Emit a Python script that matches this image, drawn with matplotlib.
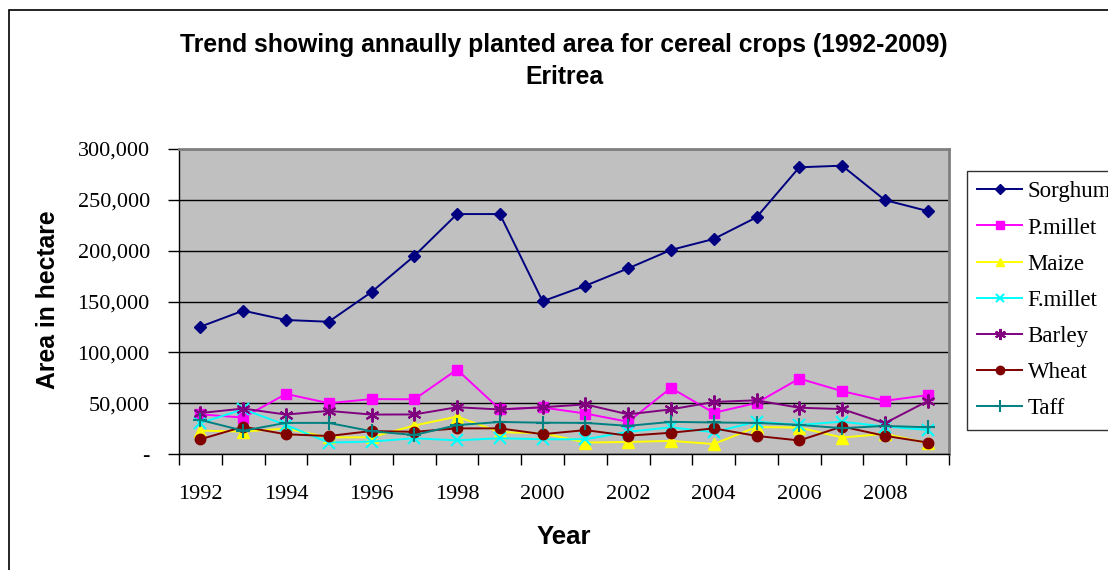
#%% CEREAL CROPS AREA - ERITREA
# Surfaces cultivees annuelles par culture (hectares), 1992-2009

import matplotlib
matplotlib.use('Agg')
import matplotlib.pyplot as plt
from matplotlib.patches import Rectangle
from matplotlib.ticker import FuncFormatter, MultipleLocator
import numpy as np


#%% DATAS

years = list(range(1992, 2010))

sorghum = [125200, 141000, 131800, 130100, 159300, 194800, 236000, 236000, 150200,
           165500, 182600, 200700, 211500, 232800, 282000, 283600, 249800, 239000]
p_millet = [39000, 35800, 59100, 50000, 54000, 53800, 83000, 44000, 45800,
            39800, 31700, 65000, 40500, 50200, 74200, 61800, 52300, 57900]
maize = [23000, 22000, 25000, 16300, 16500, 28000, 36800, 21500, 20500,
         11300, 11800, 12900, 9800, 26500, 26000, 16200, 19800, 10700]
f_millet = [30500, 44000, 28500, 11300, 12200, 15500, 13400, 15500, 14500,
            14500, 21900, 26200, 21500, 31800, 28600, 31800, 27000, 23700]
barley = [40300, 44700, 38800, 42400, 38800, 38900, 46000, 43800, 46000,
          48800, 39000, 43900, 51200, 52800, 45500, 44200, 30300, 52000]
wheat = [14500, 26800, 19400, 17700, 22600, 21800, 25200, 25200, 19500,
         23500, 18000, 20900, 25200, 17800, 13300, 27000, 17900, 11300]
taff = [33500, 22900, 30600, 30600, 22400, 18700, 28400, 31500, 30800,
        30600, 27700, 31600, 31000, 30600, 28600, 25400, 27600, 26300]

series = [
    ('Sorghum', sorghum, '#000080', 'D', 6.5),
    ('P.millet', p_millet, '#FF00FF', 's', 7),
    ('Maize', maize, '#FFFF00', '^', 8),
    ('F.millet', f_millet, '#00FFFF', 'x', 8),
    ('Barley', barley, '#800080', (6, 2, 0), 10),
    ('Wheat', wheat, '#800000', 'o', 7.5),
    ('Taff', taff, '#008080', '+', 10),
]


#%% PLOT

W, H = 1108, 570
fig = plt.figure(figsize=(W/100, H/100), dpi=100)
fig.patch.set_facecolor('white')

# cadre exterieur du graphique
fig.patches.append(Rectangle((9/W, -0.2), 1.5, 1.2 - 10/H, transform=fig.transFigure,
                             fill=False, edgecolor='black', linewidth=1.2, clip_on=False))

ax = fig.add_axes([179/W, 1 - 454/H, (949 - 179)/W, (454 - 149)/H])
ax.set_facecolor('#C0C0C0')

x = np.arange(len(years))
for name, vals, col, mk, ms in series:
    mew = 1.5 if mk in ('x', '+') or isinstance(mk, tuple) else 1
    ax.plot(x, vals, color=col, marker=mk, markersize=ms, linewidth=1.4,
            markeredgewidth=mew, markeredgecolor=col, label=name)

ax.set_xlim(-0.5, len(years) - 0.5)
ax.set_ylim(0, 300000)

ax.yaxis.set_major_locator(MultipleLocator(50000))
ax.yaxis.set_major_formatter(FuncFormatter(lambda v, p: '-' if v == 0 else f'{v:,.0f}'))
ax.grid(axis='y', color='black', linewidth=1)
ax.set_axisbelow(True)

ax.set_xticks(np.arange(-0.5, len(years), 1))
ax.set_xticklabels([])
ax.set_xticks(x[::2], minor=True)
ax.set_xticklabels([str(y) for y in years[::2]], minor=True)
ax.tick_params(axis='x', which='major', direction='out', length=8, width=1, color='black')
ax.tick_params(axis='x', which='minor', length=0, pad=22)
ax.tick_params(axis='y', direction='out', length=8, width=1, pad=13)
for lab in ax.get_xticklabels(minor=True) + ax.get_yticklabels():
    lab.set_fontfamily('Liberation Serif')
    lab.set_fontsize(16)

for s in ('top', 'right'):
    ax.spines[s].set_color('#808080')
    ax.spines[s].set_linewidth(2)
for s in ('left', 'bottom'):
    ax.spines[s].set_color('black')
    ax.spines[s].set_linewidth(1)

fig.text(564/W, 1 - 45/H, 'Trend showing annaully planted area for cereal crops (1992-2009)',
         ha='center', va='center', fontsize=17.8, fontweight='bold', family='Liberation Sans')
fig.text(564/W, 1 - 77/H, 'Eritrea', ha='center', va='center', fontsize=17.8,
         fontweight='bold', family='Liberation Sans')
fig.text(48/W, 1 - 300/H, 'Area in hectare', ha='center', va='center', rotation=90,
         fontsize=17.8, fontweight='bold', family='Liberation Sans')
fig.text(564/W, 1 - 537/H, 'Year', ha='center', va='center', fontsize=18.5,
         fontweight='bold', family='Liberation Sans')

# la legende deborde a droite, comme l'original
leg = ax.legend(loc='upper left', bbox_to_anchor=(967/W, 1 - 171/H),
                bbox_transform=fig.transFigure, frameon=True, fancybox=False,
                prop={'family': 'Liberation Serif', 'size': 16.5},
                handlelength=1.95, labelspacing=0.66, borderpad=0.45, handletextpad=0.25,
                borderaxespad=0)
leg.get_frame().set_edgecolor('black')
leg.get_frame().set_linewidth(1)
for h in leg.legend_handles:
    h.set_markersize(h.get_markersize() * 0.8)

fig.savefig('out.png', dpi=100)
